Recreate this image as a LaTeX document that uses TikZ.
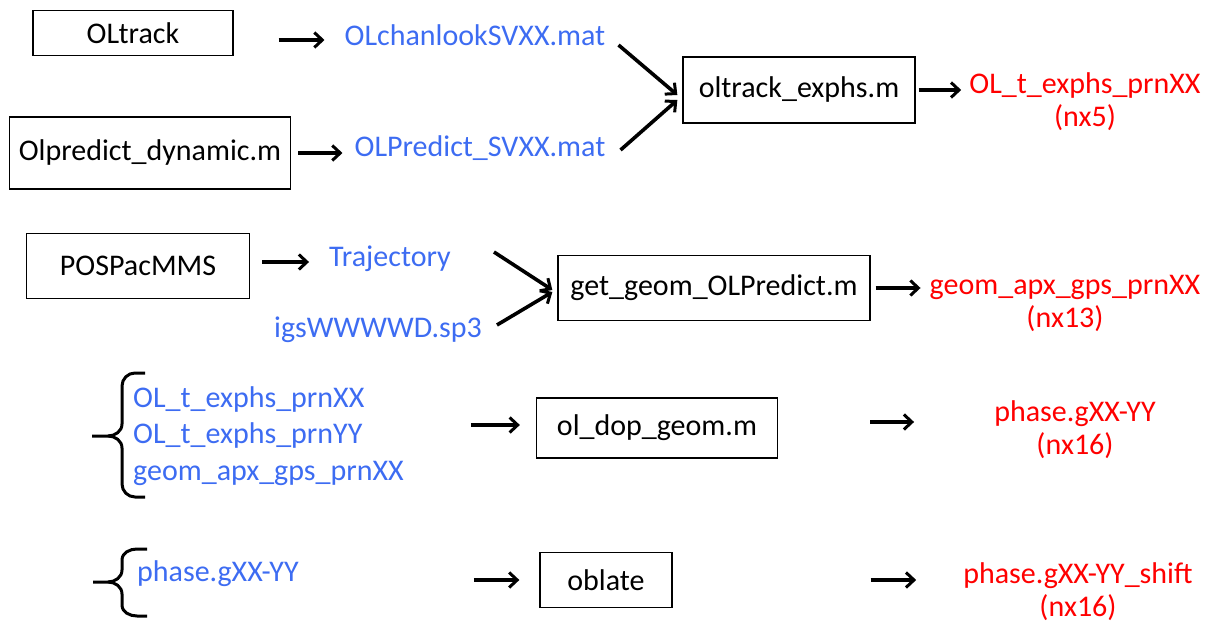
\documentclass[tikz,border=0pt]{standalone}
\usepackage{fontspec}
\setmainfont{Carlito}
\usetikzlibrary{positioning,arrows.meta,calc}
\definecolor{fblue}{HTML}{3D6CF2}
\definecolor{fred}{HTML}{FF0000}
\tikzset{
  box/.style={draw,line width=1.3pt,inner sep=0pt,font=\fontsize{30}{36}\selectfont},
  file/.style={text=fblue,inner sep=0pt,align=left,font=\fontsize{30}{36.5}\selectfont},
  result/.style={text=fred,inner sep=0pt,align=center,font=\fontsize{30}{33}\selectfont},
  arr/.style={-{Straight Barb[length=8pt,width=15pt,line width=3pt]},line width=3.6pt},
  brace/.style={line width=3pt}
}
\begin{document}
\begin{tikzpicture}[x=1pt,y=-1pt]
  \useasboundingbox (0,0) rectangle (1219,626);
  % first row: tracking
  \node[box,minimum width=200,minimum height=45] (oltrack) at (133,33) {OLtrack};
  \node[file] (chanlook) at (475,35) {OLchanlookSVXX.mat};
  \node[box,minimum width=281,minimum height=72] (predict) at (150,153) {Olpredict\_dynamic.m};
  \node[file] (predictsv) at (480,148) {OLPredict\_SVXX.mat};
  \node[box,minimum width=232,minimum height=66] (exphs) at (799,90) {oltrack\_exphs.m};
  \node[result] (prnxx) at (1085,102) {OL\_t\_exphs\_prnXX\\(nx5)};
  \draw[arr,shorten <=45pt,shorten >=20pt] ([yshift=-7pt]oltrack.east) -- ([yshift=-7pt]oltrack.east -| chanlook.west);
  \draw[arr,shorten <=7pt,shorten >=12pt] (predict.east) -- (predict.east -| predictsv.west);
  \draw[arr] ([shift={(13,10)}]chanlook.east) -- ([shift={(-5,5)}]exphs.west);
  \draw[arr] ([shift={(15,2)}]predictsv.east) -- ([shift={(-5,10)}]exphs.west);
  \draw[arr,shorten <=3pt,shorten >=8pt] (exphs.east) -- (exphs.east -| prnxx.west);
  % second row: geometry
  \node[box,minimum width=223,minimum height=65] (pospac) at (138,266) {POSPacMMS};
  \node[file] (traj) at (390,259) {Trajectory};
  \node[file] (igs) at (378,330) {igsWWWWD.sp3};
  \node[box,minimum width=312,minimum height=65] (getgeom) at (714,288) {get\_geom\_OLPredict.m};
  \node[result] (geomprn) at (1065,303) {geom\_apx\_gps\_prnXX\\(nx13)};
  \draw[arr,shorten <=12pt,shorten >=20pt] ([yshift=4pt]pospac.east) -- ([yshift=4pt]pospac.east -| traj.west);
  \draw[arr] ([shift={(43,-7)}]traj.east) -- ([shift={(-5,2)}]getgeom.west);
  \draw[arr] ([shift={(15,-5)}]igs.east) -- ([shift={(-5,4)}]getgeom.west);
  \draw[arr,shorten <=5pt,shorten >=9pt] (getgeom.east) -- (getgeom.east -| geomprn.west);
  % third row: doppler
  \draw[brace] (145,373) -- (135,373) to[out=180,in=90] (122,386) -- (122,424) to[out=-90,in=0] (108,436) -- (92,436);
  \draw[brace] (108,436) to[out=0,in=90] (122,448) -- (122,484) to[out=-90,in=180] (135,497) -- (145,497);
  \node[file,anchor=west] (dopin) at (133,436) {OL\_t\_exphs\_prnXX\\OL\_t\_exphs\_prnYY\\geom\_apx\_gps\_prnXX};
  \node[box,minimum width=241,minimum height=60] (dopgeom) at (657,428) {ol\_dop\_geom.m};
  \node[result] (phase) at (1075,430) {phase.gXX-YY\\(nx16)};
  \draw[arr,shorten <=67pt,shorten >=16pt] ([yshift=3pt]dopin.east |- dopgeom.west) -- ([yshift=3pt]dopgeom.west);
  \draw[arr,shorten <=92pt,shorten >=80pt] ([yshift=6pt]dopgeom.east) -- ([yshift=6pt]dopgeom.east -| phase.west);
  % fourth row: oblate
  \draw[brace] (147,549) -- (137,549) to[out=180,in=90] (122,560) -- (122,570) to[out=-90,in=0] (108,582) -- (93,582);
  \draw[brace] (108,582) to[out=0,in=90] (122,594) -- (122,605) to[out=-90,in=180] (137,616) -- (147,616);
  \node[file,anchor=west] (phasein) at (137,574) {phase.gXX-YY};
  \node[box,minimum width=132,minimum height=55] (oblate) at (606,580) {oblate};
  \node[result] (shift) at (1078,592) {phase.gXX-YY\_shift\\(nx16)};
  \draw[arr,shorten <=175pt,shorten >=20pt] (phasein.east |- oblate.west) -- (oblate.west);
  \draw[arr,shorten <=198pt,shorten >=47pt] (oblate.east) -- (oblate.east -| shift.west);
\end{tikzpicture}
\end{document}
